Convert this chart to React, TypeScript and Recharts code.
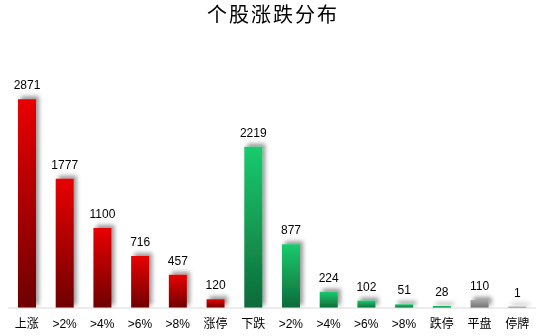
import React from 'react';
import { BarChart, Bar, XAxis, YAxis, Cell, LabelList } from 'recharts';

const categories = ['上涨', '>2%', '>4%', '>6%', '>8%', '涨停', '下跌', '>2%', '>4%', '>6%', '>8%', '跌停', '平盘', '停牌'];
const counts = [2871, 1777, 1100, 716, 457, 120, 2219, 877, 224, 102, 51, 28, 110, 1];
const groups = ['up', 'up', 'up', 'up', 'up', 'up', 'down', 'down', 'down', 'down', 'down', 'down', 'flat', 'flat'];

const data = categories.map((c, i) => ({ key: i, name: c, value: counts[i], group: groups[i] }));

const fillFor = (g: string) => (g === 'up' ? 'url(#gUp)' : g === 'down' ? 'url(#gDown)' : 'url(#gFlat)');

export default function App() {
  return (
    <div style={{ position: 'fixed', left: 0, top: 0, width: 538, height: 336, background: '#fff' }}>
      <div
        style={{
          position: 'absolute',
          left: 0,
          top: 1,
          width: 546,
          textAlign: 'center',
          fontFamily: '"Noto Sans CJK SC"',
          fontSize: 20,
          letterSpacing: 2,
          color: '#000',
          lineHeight: '26px',
        }}
      >
        个股涨跌分布
      </div>
      <BarChart width={538} height={336} data={data} margin={{ top: 90, right: 2, left: 8, bottom: 0 }}>
        <defs>
          <linearGradient id="gUp" x1="0" y1="0" x2="0" y2="1">
            <stop offset="0%" stopColor="#e80000" />
            <stop offset="100%" stopColor="#6e0000" />
          </linearGradient>
          <linearGradient id="gDown" x1="0" y1="0" x2="0" y2="1">
            <stop offset="0%" stopColor="#1acb6e" />
            <stop offset="100%" stopColor="#0e6a39" />
          </linearGradient>
          <linearGradient id="gFlat" x1="0" y1="0" x2="0" y2="1">
            <stop offset="0%" stopColor="#a8a8a8" />
            <stop offset="100%" stopColor="#707070" />
          </linearGradient>
          <filter id="shadow" filterUnits="userSpaceOnUse" x="0" y="0" width="538" height="336">
            <feDropShadow dx="3" dy="-3" stdDeviation="2" floodColor="#000" floodOpacity="0.4" />
          </filter>
        </defs>
        <XAxis
          dataKey="key"
          tickFormatter={(k: number) => categories[k]}
          height={28}
          tickLine={false}
          axisLine={{ stroke: '#d9d9d9' }}
          interval={0}
          tick={{ fontSize: 12, fill: '#000', fontFamily: '"Liberation Sans", "Noto Sans CJK SC"' }}
          tickMargin={5}
        />
        <YAxis hide domain={[0, 3000]} />
        <Bar dataKey="value" barSize={18} minPointSize={1.5} isAnimationActive={false} filter="url(#shadow)">
          {data.map((d) => (
            <Cell key={d.key} fill={fillFor(d.group)} />
          ))}
          <LabelList
            dataKey="value"
            position="top"
            offset={10}
            style={{ fontSize: 12, fill: '#000', fontFamily: '"Liberation Sans", sans-serif' }}
          />
        </Bar>
      </BarChart>
    </div>
  );
}
